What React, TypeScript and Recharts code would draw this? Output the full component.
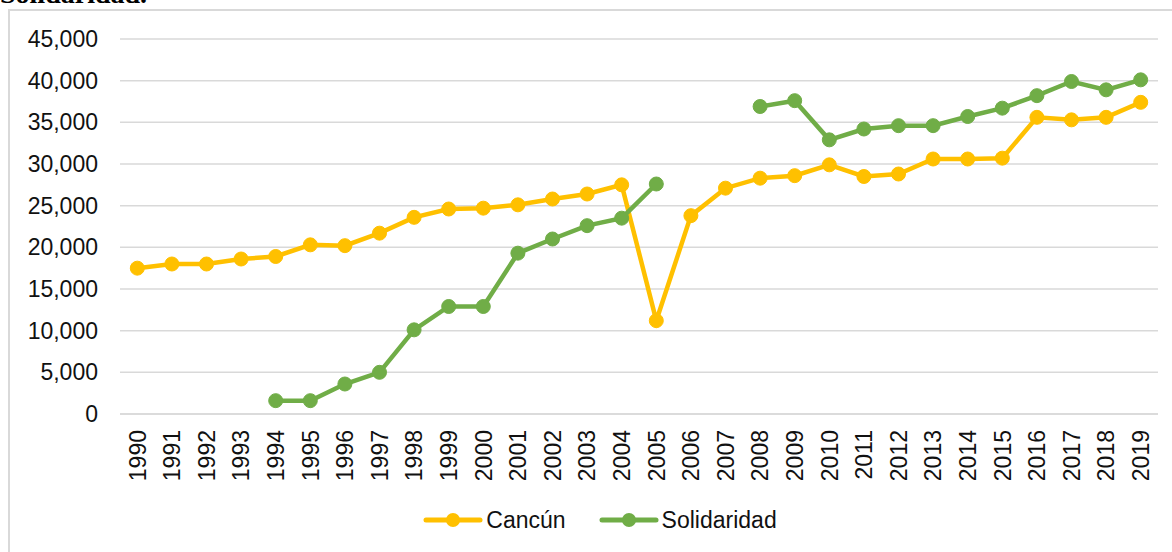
import React from 'react';
import { LineChart, Line, XAxis, YAxis, CartesianGrid, Legend } from 'recharts';

const years = [
  '1990', '1991', '1992', '1993', '1994', '1995', '1996', '1997', '1998', '1999',
  '2000', '2001', '2002', '2003', '2004', '2005', '2006', '2007', '2008', '2009',
  '2010', '2011', '2012', '2013', '2014', '2015', '2016', '2017', '2018', '2019',
];

const cancun = [
  17500, 18000, 18000, 18600, 18900, 20300, 20200, 21700, 23600, 24600,
  24700, 25100, 25800, 26400, 27500, 11200, 23800, 27100, 28300, 28600,
  29900, 28500, 28800, 30600, 30600, 30700, 35600, 35300, 35600, 37400,
];

const solidaridad = [
  null, null, null, null, 1600, 1600, 3600, 5000, 10100, 12900,
  12900, 19300, 21000, 22600, 23500, 27600, null, null, 36900, 37600,
  32900, 34200, 34600, 34600, 35700, 36700, 38200, 39900, 38900, 40100,
];

const yTicks = [0, 5000, 10000, 15000, 20000, 25000, 30000, 35000, 40000, 45000];

const CANCUN_COLOR = '#FFC000';
const SOLI_COLOR = '#70AD47';
const FONT = '"Liberation Sans", Arial, sans-serif';

const data = years.map((year, i) => ({
  year,
  cancun: cancun[i],
  solidaridad: solidaridad[i],
}));

const YearTick = (props: any) => {
  const { x, y, payload } = props;
  return (
    <text
      transform={`translate(${x},${y}) rotate(-90)`}
      textAnchor="end"
      dy="0.36em"
      fontSize={23}
      fontFamily={FONT}
      fill="#111"
    >
      {payload.value}
    </text>
  );
};

const legendItems = [
  { label: 'Cancún', color: CANCUN_COLOR },
  { label: 'Solidaridad', color: SOLI_COLOR },
];

const LegendContent = () => (
  <div
    style={{
      display: 'flex',
      justifyContent: 'center',
      alignItems: 'center',
      height: 40,
      gap: 33,
      fontFamily: FONT,
      fontSize: 23,
      color: '#111',
    }}
  >
    {legendItems.map((item) => (
      <div key={item.label} style={{ display: 'flex', alignItems: 'center' }}>
        <svg width={60} height={20} style={{ marginRight: 3 }}>
          <line x1={3} y1={10} x2={57} y2={10} stroke={item.color} strokeWidth={5} strokeLinecap="round" />
          <circle cx={30} cy={10} r={7} fill={item.color} />
        </svg>
        <span>{item.label}</span>
      </div>
    ))}
  </div>
);

export default function App() {
  return (
    <div
      style={{
        position: 'absolute',
        left: 0,
        top: 0,
        width: 1172,
        height: 552,
        overflow: 'hidden',
        background: '#fff',
      }}
    >
      {/* caption of the page above the chart, mostly cut off like in the source */}
      <div
        style={{
          position: 'absolute',
          left: 0,
          top: -20,
          fontFamily: '"Liberation Serif", "Times New Roman", serif',
          fontWeight: 'bold',
          fontSize: 28,
          lineHeight: '28px',
          color: '#000',
          whiteSpace: 'nowrap',
        }}
      >
        Solidaridad.
      </div>
      <div
        style={{
          position: 'absolute',
          left: 8,
          top: 9,
          width: 1200,
          height: 600,
          border: '2px solid #d9d9d9',
        }}
      />
      <div style={{ position: 'absolute', left: 0, top: 0 }}>
        <LineChart width={1172} height={552} data={data} margin={{ top: 39, right: 14, left: 20, bottom: 12 }}>
          <CartesianGrid vertical={false} stroke="#d9d9d9" strokeWidth={1.5} />
          <XAxis
            dataKey="year"
            interval={0}
            tick={<YearTick />}
            tickLine={false}
            tickSize={0}
            tickMargin={16}
            height={86}
            axisLine={{ stroke: '#d9d9d9', strokeWidth: 1.5 }}
            padding={{ left: 17.3, right: 17.3 }}
          />
          <YAxis
            width={100}
            domain={[0, 45000]}
            ticks={yTicks}
            interval={0}
            tickFormatter={(v) => Number(v).toLocaleString('en-US')}
            tick={{ fontSize: 23, fontFamily: FONT, fill: '#111' }}
            tickLine={false}
            axisLine={false}
            tickSize={0}
            tickMargin={22}
          />
          <Legend verticalAlign="bottom" height={40} content={<LegendContent />} wrapperStyle={{ left: 0, width: 1200 }} />
          <Line
            type="linear"
            dataKey="cancun"
            name="Cancún"
            stroke={CANCUN_COLOR}
            strokeWidth={4.5}
            dot={{ r: 7, fill: CANCUN_COLOR, stroke: CANCUN_COLOR, strokeWidth: 1 }}
            activeDot={false}
            isAnimationActive={false}
          />
          <Line
            type="linear"
            dataKey="solidaridad"
            name="Solidaridad"
            stroke={SOLI_COLOR}
            strokeWidth={4.5}
            dot={{ r: 7, fill: SOLI_COLOR, stroke: SOLI_COLOR, strokeWidth: 1 }}
            activeDot={false}
            isAnimationActive={false}
          />
        </LineChart>
      </div>
    </div>
  );
}
